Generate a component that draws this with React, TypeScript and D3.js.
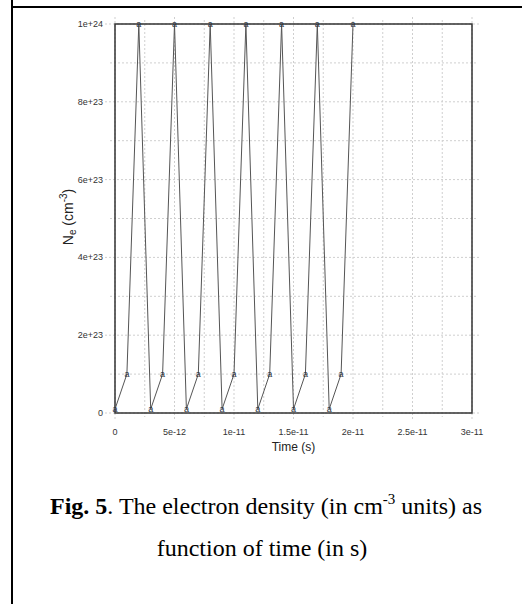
import React from "react";
import * as d3 from "d3";

const timeValues = [0, 1e-12, 2e-12, 3e-12, 4e-12, 5e-12, 6e-12, 7e-12, 8e-12, 9e-12, 10e-12, 11e-12, 12e-12, 13e-12, 14e-12, 15e-12, 16e-12, 17e-12, 18e-12, 19e-12, 20e-12];
const densityValues = [1e22, 1e23, 1e24, 1e22, 1e23, 1e24, 1e22, 1e23, 1e24, 1e22, 1e23, 1e24, 1e22, 1e23, 1e24, 1e22, 1e23, 1e24, 1e22, 1e23, 1e24];
const xTicks = [0, 5e-12, 1e-11, 1.5e-11, 2e-11, 2.5e-11, 3e-11];
const xTickLabels = ["0", "5e-12", "1e-11", "1.5e-11", "2e-11", "2.5e-11", "3e-11"];
const yTicks = [0, 2e23, 4e23, 6e23, 8e23, 1e24];
const yTickLabels = ["0", "2e+23", "4e+23", "6e+23", "8e+23", "1e+24"];

export default function App() {
  const W = 522, H = 604;
  const L = 115, R = 472, T = 24, B = 413;
  const x = d3.scaleLinear().domain([0, 3e-11]).range([L, R]);
  const y = d3.scaleLinear().domain([0, 1e24]).range([B, T]);
  const pts = timeValues.map((t, i) => [t, densityValues[i]] as [number, number]);
  const line = d3.line<[number, number]>().x(d => x(d[0])).y(d => y(d[1]));
  const xMinor = xTicks.slice(0, -1).map((v, i) => (v + xTicks[i + 1]) / 2);
  const yMinor = yTicks.slice(0, -1).map((v, i) => (v + yTicks[i + 1]) / 2);
  const gridColor = "#cfcfcf";
  const sans = "'Liberation Sans', Arial, sans-serif";
  const serif = "'Liberation Serif', 'Times New Roman', serif";
  return (
    <svg width={W} height={H} style={{ position: "absolute", left: 0, top: 0, background: "#fff" }}>
      {/* outer frame */}
      <line x1={12} x2={12} y1={0} y2={H} stroke="#000" strokeWidth={2} />
      <line x1={11} x2={W} y1={7} y2={7} stroke="#000" strokeWidth={2} />
      {/* grid */}
      {yMinor.map((v, i) => (
        <line key={"ym" + i} x1={L - 5} x2={R + 4} y1={y(v)} y2={y(v)} stroke={gridColor} strokeWidth={1} strokeDasharray="2,2" />
      ))}
      {xMinor.map((v, i) => (
        <line key={"xm" + i} x1={x(v)} x2={x(v)} y1={T - 4} y2={B + 4} stroke={gridColor} strokeWidth={1} strokeDasharray="2,2" />
      ))}
      {yTicks.map((v, i) => (
        <line key={"yg" + i} x1={L - 10} x2={R + 8} y1={y(v)} y2={y(v)} stroke={gridColor} strokeWidth={1} strokeDasharray="2,2" />
      ))}
      {xTicks.map((v, i) => (
        <line key={"xg" + i} x1={x(v)} x2={x(v)} y1={T - 7} y2={B + 7} stroke={gridColor} strokeWidth={1} strokeDasharray="2,2" />
      ))}
      {/* plot frame */}
      <rect x={L} y={T} width={R - L} height={B - T} fill="none" stroke="#333" strokeWidth={1.5} />
      {/* data */}
      <path d={line(pts) || ""} fill="none" stroke="#555" strokeWidth={1} />
      {pts.map((p, i) => (
        <text key={"m" + i} x={x(p[0])} y={y(p[1])} textAnchor="middle" dominantBaseline="central" fontSize={9} fontFamily={sans} fill="#2a3340">a</text>
      ))}
      {/* tick labels */}
      {yTicks.map((v, i) => (
        <text key={"yl" + i} x={L - 12} y={y(v)} textAnchor="end" dominantBaseline="central" fontSize={9} fontFamily={sans} fill="#333">{yTickLabels[i]}</text>
      ))}
      {xTicks.map((v, i) => (
        <text key={"xl" + i} x={x(v)} y={432} textAnchor="middle" dominantBaseline="central" fontSize={9} fontFamily={sans} fill="#333">{xTickLabels[i]}</text>
      ))}
      {/* axis titles */}
      <text x={(L + R) / 2} y={451} textAnchor="middle" fontSize={12} fontFamily={sans} fill="#222">Time (s)</text>
      <text transform="translate(73,217) rotate(-90)" textAnchor="middle" fontSize={14} fontFamily={sans} fill="#222">
        N<tspan fontSize={10} dy={3}>e</tspan><tspan dy={-3}> (cm</tspan><tspan fontSize={10} dy={-6}>-3</tspan><tspan dy={6}>)</tspan>
      </text>
      {/* caption */}
      <text x={266} y={514} textAnchor="middle" fontSize={24} fontFamily={serif} fill="#000">
        <tspan fontWeight="bold">Fig. 5</tspan>. The electron density (in cm<tspan fontSize={15} dy={-10}>-3</tspan><tspan dy={10}> units) as</tspan>
      </text>
      <text x={262} y={556} textAnchor="middle" fontSize={24} fontFamily={serif} fill="#000">function of time (in s)</text>
    </svg>
  );
}
